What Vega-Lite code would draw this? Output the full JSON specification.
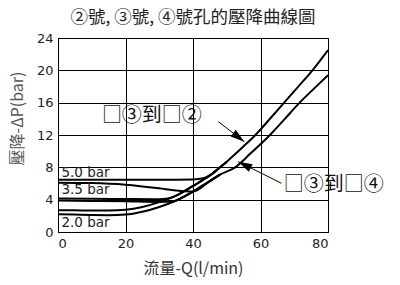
{
  "$schema": "https://vega.github.io/schema/vega-lite/v6.json",
  "width": 270,
  "height": 194,
  "autosize": {"type": "none"},
  "padding": {"left": 58, "top": 38, "right": 72, "bottom": 53},
  "background": "white",
  "config": {"view": {"stroke": "black", "strokeWidth": 1}, "font": "Noto Sans CJK TC"},
  "title": {"text": "②號, ③號, ④號孔的壓降曲線圖", "fontSize": 17.5, "font": "Noto Sans CJK TC", "fontWeight": "normal", "color": "#222", "offset": 6, "anchor": "middle", "frame": "group"},
  "datasets": {
    "curves": [
      {"series": "U2.0", "x": 0, "y": 2.7}, {"series": "U2.0", "x": 5, "y": 2.68}, {"series": "U2.0", "x": 10, "y": 2.65}, {"series": "U2.0", "x": 15, "y": 2.65}, {"series": "U2.0", "x": 20, "y": 2.75}, {"series": "U2.0", "x": 25, "y": 3.1}, {"series": "U2.0", "x": 30, "y": 3.7}, {"series": "U2.0", "x": 35, "y": 4.5}, {"series": "U2.0", "x": 40, "y": 5.7}, {"series": "U2.0", "x": 45, "y": 7.0}, {"series": "U2.0", "x": 48, "y": 8.0}, {"series": "U2.0", "x": 50, "y": 8.7}, {"series": "U2.0", "x": 55, "y": 10.6}, {"series": "U2.0", "x": 58.5, "y": 12}, {"series": "U2.0", "x": 63, "y": 14.1}, {"series": "U2.0", "x": 67, "y": 16}, {"series": "U2.0", "x": 71, "y": 17.9}, {"series": "U2.0", "x": 75.4, "y": 20}, {"series": "U2.0", "x": 80, "y": 22.5},
      {"series": "U3.5", "x": 0, "y": 4.15}, {"series": "U3.5", "x": 10, "y": 4.12}, {"series": "U3.5", "x": 20, "y": 4.08}, {"series": "U3.5", "x": 28, "y": 4.05}, {"series": "U3.5", "x": 32, "y": 4.12}, {"series": "U3.5", "x": 35, "y": 4.5}, {"series": "U3.5", "x": 40, "y": 5.7}, {"series": "U3.5", "x": 45, "y": 7.0}, {"series": "U3.5", "x": 48, "y": 8.0}, {"series": "U3.5", "x": 50, "y": 8.7},
      {"series": "U5.0", "x": 0, "y": 6.45}, {"series": "U5.0", "x": 10, "y": 6.45}, {"series": "U5.0", "x": 20, "y": 6.45}, {"series": "U5.0", "x": 30, "y": 6.45}, {"series": "U5.0", "x": 40, "y": 6.5}, {"series": "U5.0", "x": 43, "y": 6.65}, {"series": "U5.0", "x": 45, "y": 7.0}, {"series": "U5.0", "x": 48, "y": 8.0}, {"series": "U5.0", "x": 50, "y": 8.7},
      {"series": "L2.0", "x": 0, "y": 2.2}, {"series": "L2.0", "x": 5, "y": 2.15}, {"series": "L2.0", "x": 10, "y": 2.1}, {"series": "L2.0", "x": 15, "y": 2.08}, {"series": "L2.0", "x": 20, "y": 2.15}, {"series": "L2.0", "x": 25, "y": 2.5}, {"series": "L2.0", "x": 30, "y": 3.1}, {"series": "L2.0", "x": 35, "y": 3.9}, {"series": "L2.0", "x": 40, "y": 5.0}, {"series": "L2.0", "x": 45, "y": 6.3}, {"series": "L2.0", "x": 48, "y": 7.1}, {"series": "L2.0", "x": 52.5, "y": 8.0}, {"series": "L2.0", "x": 57, "y": 9.7}, {"series": "L2.0", "x": 62.8, "y": 12}, {"series": "L2.0", "x": 67, "y": 13.9}, {"series": "L2.0", "x": 71.6, "y": 16}, {"series": "L2.0", "x": 76, "y": 17.8}, {"series": "L2.0", "x": 80, "y": 19.4},
      {"series": "L3.5", "x": 0, "y": 3.9}, {"series": "L3.5", "x": 10, "y": 3.85}, {"series": "L3.5", "x": 20, "y": 3.8}, {"series": "L3.5", "x": 30, "y": 3.72}, {"series": "L3.5", "x": 34, "y": 3.78}, {"series": "L3.5", "x": 37, "y": 4.3}, {"series": "L3.5", "x": 40, "y": 5.0}, {"series": "L3.5", "x": 45, "y": 6.3}, {"series": "L3.5", "x": 48, "y": 7.1},
      {"series": "L5.0", "x": 0, "y": 6.1}, {"series": "L5.0", "x": 10, "y": 6.05}, {"series": "L5.0", "x": 20, "y": 5.85}, {"series": "L5.0", "x": 30, "y": 5.4}, {"series": "L5.0", "x": 35, "y": 5.12}, {"series": "L5.0", "x": 40, "y": 5.0}, {"series": "L5.0", "x": 45, "y": 6.3}, {"series": "L5.0", "x": 48, "y": 7.1}
    ],
    "barLabels": [
      {"x": 1, "y": 7.26, "text": "5.0 bar"},
      {"x": 1, "y": 5.2, "text": "3.5 bar"},
      {"x": 1, "y": 1.08, "text": "2.0 bar"}
    ],
    "notes": [
      {"x": 13.0, "y": 14.36, "text": "□③到□②"},
      {"x": 66.9, "y": 5.82, "text": "□③到□④"}
    ],
    "arrows": [
      {"arrow": "a1", "part": "start", "x": 47.5, "y": 13.65},
      {"arrow": "a1", "part": "tip", "x": 55.2, "y": 11.18},
      {"arrow": "a2", "part": "start", "x": 66.2, "y": 6.03},
      {"arrow": "a2", "part": "tip", "x": 53.4, "y": 8.7}
    ]
  },
  "encoding": {
    "x": {"field": "x", "type": "quantitative", "scale": {"domain": [0, 80], "nice": false},
      "axis": {"values": [0, 20, 40, 60, 80], "title": "流量-Q(l/min)", "grid": true, "gridColor": "black", "gridOpacity": 1, "gridWidth": 1, "domainColor": "black", "ticks": false, "labelPadding": 5, "labelFont": "DejaVu Sans", "labelFontSize": 13, "labelColor": "#222", "labelOverlap": false, "titleFont": "Noto Sans CJK TC", "titleFontSize": 16, "titleFontWeight": "normal", "titleColor": "#333", "titleX": 135, "titleY": 36, "titleAlign": "center", "titleBaseline": "middle"}},
    "y": {"field": "y", "type": "quantitative", "scale": {"domain": [0, 24], "nice": false},
      "axis": {"values": [0, 4, 8, 12, 16, 20, 24], "title": "壓降-ΔP(bar)", "grid": true, "gridColor": "black", "gridOpacity": 1, "gridWidth": 1, "domainColor": "black", "ticks": false, "labelPadding": 5, "labelFont": "DejaVu Sans", "labelFontSize": 13, "labelColor": "#222", "labelOverlap": false, "titleFont": "Noto Sans CJK TC", "titleFontSize": 16, "titleFontWeight": "normal", "titleColor": "#555", "titleX": -41, "titleY": 80, "titleAngle": -90, "titleAlign": "center", "titleBaseline": "middle"}}
  },
  "layer": [
    {
      "data": {"name": "curves"},
      "mark": {"type": "line", "interpolate": "monotone", "color": "black", "strokeWidth": 2},
      "encoding": {
        "detail": {"field": "series", "type": "nominal"}
      }
    },
    {
      "data": {"name": "barLabels"},
      "mark": {"type": "text", "align": "left", "baseline": "middle", "font": "DejaVu Sans", "fontSize": 13.5, "color": "#222"},
      "encoding": {
        "text": {"field": "text"}
      }
    },
    {
      "data": {"name": "notes"},
      "mark": {"type": "text", "align": "left", "baseline": "middle", "font": "Noto Sans CJK TC", "fontSize": 20, "color": "#111"},
      "encoding": {
        "text": {"field": "text"}
      }
    },
    {
      "data": {"name": "arrows"},
      "mark": {"type": "line", "color": "black", "strokeWidth": 1},
      "encoding": {
        "detail": {"field": "arrow", "type": "nominal"}
      }
    },
    {
      "data": {"name": "arrows"},
      "transform": [{"filter": "datum.arrow === 'a1' && datum.part === 'tip'"}],
      "mark": {"type": "point", "shape": "M0,0L0.6,2L-0.6,2Z", "filled": true, "color": "black", "opacity": 1, "size": 196, "angle": 127.6},
      "encoding": {}
    },
    {
      "data": {"name": "arrows"},
      "transform": [{"filter": "datum.arrow === 'a2' && datum.part === 'tip'"}],
      "mark": {"type": "point", "shape": "M0,0L0.6,2L-0.6,2Z", "filled": true, "color": "black", "opacity": 1, "size": 196, "angle": 296.5},
      "encoding": {}
    }
  ]
}
